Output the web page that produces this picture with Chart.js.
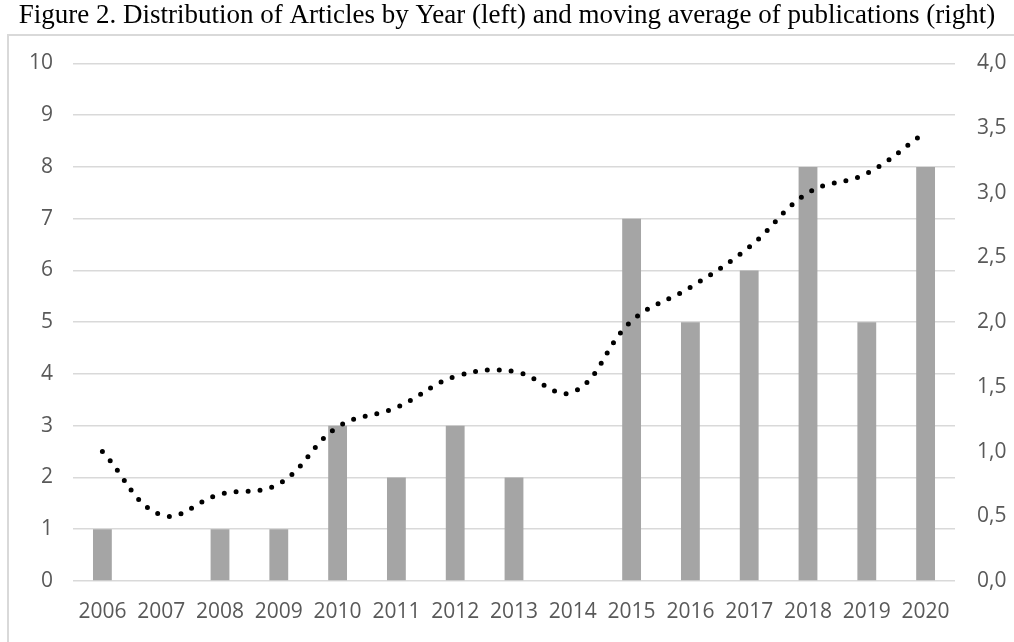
<!DOCTYPE html>
<html>
<head>
<meta charset="utf-8">
<script src="https://cdn.jsdelivr.net/npm/chart.js@4/dist/chart.umd.min.js"></script>
<style>
  html, body { margin: 0; padding: 0; background: #fff; }
  #wrap { position: relative; width: 1014px; height: 642px; }
  #frame { position: absolute; left: 7px; top: 34px; width: 1020px; height: 620px; border: 2px solid #d9d9d9; box-sizing: border-box; }
  canvas { position: absolute; left: 0; top: 0; }
</style>
</head>
<body>
<div id="wrap">
  <div id="frame"></div>
  <canvas id="c" width="1014" height="642"></canvas>
</div>
<script>
const years = ["2006","2007","2008","2009","2010","2011","2012","2013","2014","2015","2016","2017","2018","2019","2020"];
const articles = [1, 0, 1, 1, 3, 2, 3, 2, 0, 7, 5, 6, 8, 5, 8];
const movingAverage = [1.0, 0.51, 0.67, 0.75, 1.19, 1.34, 1.58, 1.62, 1.46, 2.01, 2.27, 2.58, 3.0, 3.15, 3.47];
const titleText = "Figure 2. Distribution of Articles by Year (left) and moving average of publications (right)";

const tickFont = { family: "'Open Sans', sans-serif", size: 21 };
const tickColor = "#595959";

new Chart(document.getElementById("c"), {
  data: {
    labels: years,
    datasets: [
      {
        type: "line",
        label: "Moving average",
        data: movingAverage,
        yAxisID: "y1",
        borderColor: "#000",
        borderWidth: 5,
        borderDash: [0, 12],
        borderCapStyle: "round",
        tension: 0.4,
        pointRadius: 0,
        fill: false,
        order: 0
      },
      {
        type: "bar",
        label: "Articles",
        data: articles,
        yAxisID: "y",
        backgroundColor: "#a5a5a5",
        barPercentage: 0.32,
        categoryPercentage: 1.0,
        order: 1
      }
    ]
  },
  options: {
    responsive: false,
    animation: false,
    layout: { padding: { top: 0, bottom: 0, left: 0, right: 0 } },
    plugins: {
      legend: { display: false },
      tooltip: { enabled: false },
      title: {
        display: true,
        text: titleText,
        color: "#000",
        font: { family: "'Liberation Serif', 'Times New Roman', serif", size: 27, weight: "normal", lineHeight: 1.2 },
        padding: { top: 0, bottom: 31 }
      }
    },
    scales: {
      x: {
        grid: { display: false, drawTicks: false },
        border: { display: false },
        ticks: { color: tickColor, font: tickFont, padding: 18, maxRotation: 0, autoSkip: false },
        afterFit: (s) => { s.height = 61; }
      },
      y: {
        position: "left",
        min: 0, max: 10,
        grid: { color: "#d9d9d9", lineWidth: 1.5, drawTicks: false },
        border: { display: false },
        ticks: { stepSize: 1, color: tickColor, font: tickFont, padding: 20 },
        afterFit: (s) => { s.width = 73; }
      },
      y1: {
        position: "right",
        min: 0, max: 4,
        grid: { display: false, drawTicks: false },
        border: { display: false },
        ticks: {
          stepSize: 0.5, color: tickColor, font: tickFont, padding: 22,
          callback: (v) => Number(v).toFixed(1).replace(".", ",")
        },
        afterFit: (s) => { s.width = 59; }
      }
    }
  }
});
</script>
</body>
</html>
